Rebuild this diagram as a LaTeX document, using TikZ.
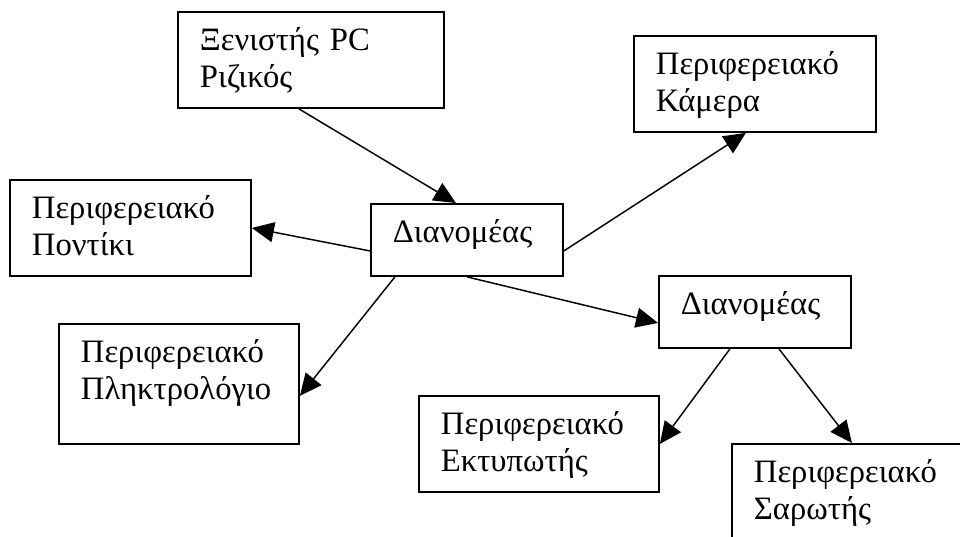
\documentclass[tikz,border=0pt]{standalone}
\usepackage{fontspec}
\setmainfont{Liberation Serif}
\usepackage{tikz}
\usetikzlibrary{arrows.meta, calc}

\begin{document}
\begin{tikzpicture}[x=0.75pt,y=0.75pt,yscale=-1,xscale=1,
  box/.style={draw, line width=1.4pt, anchor=north west, inner xsep=16.5pt, inner ysep=0pt,
    align=left, text height=29.25pt, font=\fontsize{24.5pt}{27.75pt}\selectfont},
  link/.style={line width=1.1pt, -{Triangle[length=16.5pt,width=15pt]}}]
\useasboundingbox (0,0) rectangle (960,536);
\clip (0,0) rectangle (960,536);

% Shapes
\draw (177,11) node [box, text width=166.5pt, text depth=42.75pt] (host) {Ξενιστής PC\\Ριζικός};
\draw (633,35) node [box, text width=148.5pt, text depth=42.75pt] (cam) {Περιφερειακό\\Κάμερα};
\draw (9,179) node [box, text width=147.75pt, text depth=42.75pt] (mouse) {Περιφερειακό\\Ποντίκι};
\draw (370,203) node [box, text width=111pt, text depth=24.75pt] (hubA) {Διανομέας};
\draw (658,275) node [box, text width=111pt, text depth=24.75pt] (hubB) {Διανομέας};
\draw (58,323) node [box, text width=147pt, text depth=60.75pt] (kbd) {Περιφερειακό\\Πληκτρολόγιο};
\draw (418,395) node [box, text width=147pt, text depth=42.75pt] (printer) {Περιφερειακό\\Εκτυπωτής};
\draw (731,443) node [box, text width=147pt, text depth=42.75pt] (scanner) {Περιφερειακό\\Σαρωτής};

%Straight Lines
\draw [link] ($(host.south)+(-12,0)$) -- ($(hubA.north)+(-11,0)$) ;
\draw [link] ($(hubA.east)+(0,11)$) -- ($(cam.south)+(-9,0)$) ;
\draw [link] ($(hubA.west)+(0,11)$) -- (mouse.east) ;
\draw [link] ($(hubA.south)+(-72,0)$) -- ($(kbd.east)+(0,12)$) ;
\draw [link] (hubA.south) -- ($(hubB.west)+(0,11)$) ;
\draw [link] ($(hubB.south)+(-25,0)$) -- (printer.east) ;
\draw [link] ($(hubB.south)+(24,0)$) -- (scanner.north) ;

\end{tikzpicture}
\end{document}
